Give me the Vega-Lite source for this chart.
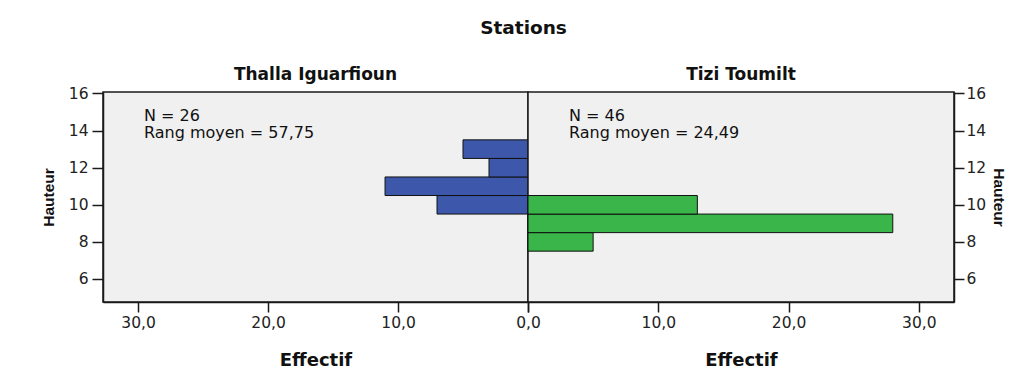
{
  "$schema": "https://vega.github.io/schema/vega-lite/v6.json",
  "background": "white",
  "padding": {"left": 40, "top": 19, "right": 10, "bottom": 5},
  "title": {
    "text": "Stations",
    "anchor": "middle",
    "font": "DejaVu Sans",
    "fontSize": 18.5,
    "fontWeight": "bold",
    "color": "#111",
    "offset": 28
  },
  "datasets": {
    "bars": [
      {"station": "Thalla Iguarfioun", "lo": 9.5, "hi": 10.5, "n": 7},
      {"station": "Thalla Iguarfioun", "lo": 10.5, "hi": 11.5, "n": 11},
      {"station": "Thalla Iguarfioun", "lo": 11.5, "hi": 12.5, "n": 3},
      {"station": "Thalla Iguarfioun", "lo": 12.5, "hi": 13.5, "n": 5},
      {"station": "Tizi Toumilt", "lo": 7.5, "hi": 8.5, "n": 5},
      {"station": "Tizi Toumilt", "lo": 8.5, "hi": 9.5, "n": 28},
      {"station": "Tizi Toumilt", "lo": 9.5, "hi": 10.5, "n": 13}
    ],
    "stats": [
      {"station": "Thalla Iguarfioun", "label": "N = 26\nRang moyen = 57,75"},
      {"station": "Tizi Toumilt", "label": "N = 46\nRang moyen = 24,49"}
    ]
  },
  "spacing": 0,
  "bounds": "flush",
  "hconcat": [
    {
      "width": 425,
      "height": 210,
      "title": {"text": "Thalla Iguarfioun", "frame": "group", "anchor": "middle"},
      "layer": [
        {
          "data": {"name": "bars"},
          "transform": [{"filter": "datum.station === 'Thalla Iguarfioun'"}],
          "mark": {"type": "rect", "fill": "#3d58ab", "stroke": "#111", "strokeWidth": 1},
          "encoding": {
            "x": {
              "field": "n", "type": "quantitative",
              "scale": {"domain": [0, 32.7], "reverse": true, "nice": false, "zero": false},
              "axis": {
                "title": "Effectif",
                "values": [0, 10, 20, 30],
                "labelExpr": "datum.value === 0 ? '' : replace(format(datum.value, '.1f'), '.', ',')"
              }
            },
            "x2": {"datum": 0},
            "y": {
              "field": "lo", "type": "quantitative",
              "scale": {"domain": [4.76, 16.08], "nice": false, "zero": false},
              "axis": {
                "orient": "left",
                "title": "Hauteur",
                "values": [6, 8, 10, 12, 14, 16],
                "tickSize": 11,
                "labelPadding": 4,
                "titlePadding": 12
              }
            },
            "y2": {"field": "hi"}
          }
        },
        {
          "data": {"name": "stats"},
          "transform": [{"filter": "datum.station === 'Thalla Iguarfioun'"}],
          "mark": {
            "type": "text", "align": "left", "baseline": "alphabetic",
            "lineBreak": "\n", "lineHeight": 17,
            "font": "DejaVu Sans", "fontSize": 16, "color": "#111"
          },
          "encoding": {
            "text": {"field": "label"},
            "x": {"datum": 29.55, "type": "quantitative"},
            "y": {"datum": 14.5, "type": "quantitative"}
          }
        }
      ]
    },
    {
      "width": 426,
      "height": 210,
      "title": {"text": "Tizi Toumilt", "frame": "group", "anchor": "middle"},
      "layer": [
        {
          "data": {"name": "bars"},
          "transform": [{"filter": "datum.station === 'Tizi Toumilt'"}],
          "mark": {"type": "rect", "fill": "#3ab54a", "stroke": "#111", "strokeWidth": 1},
          "encoding": {
            "x": {
              "field": "n", "type": "quantitative",
              "scale": {"domain": [0, 32.7], "nice": false, "zero": false},
              "axis": {
                "title": "Effectif",
                "values": [0, 10, 20, 30],
                "labelExpr": "replace(format(datum.value, '.1f'), '.', ',')"
              }
            },
            "x2": {"datum": 0},
            "y": {
              "field": "lo", "type": "quantitative",
              "scale": {"domain": [4.76, 16.08], "nice": false, "zero": false},
              "axis": {
                "orient": "right",
                "title": "Hauteur",
                "titleAngle": 90,
                "values": [6, 8, 10, 12, 14, 16],
                "tickSize": 10,
                "labelPadding": 2,
                "titlePadding": 5
              }
            },
            "y2": {"field": "hi"}
          }
        },
        {
          "data": {"name": "stats"},
          "transform": [{"filter": "datum.station === 'Tizi Toumilt'"}],
          "mark": {
            "type": "text", "align": "left", "baseline": "alphabetic",
            "lineBreak": "\n", "lineHeight": 17,
            "font": "DejaVu Sans", "fontSize": 16, "color": "#111"
          },
          "encoding": {
            "text": {"field": "label"},
            "x": {"datum": 3.15, "type": "quantitative"},
            "y": {"datum": 14.5, "type": "quantitative"}
          }
        }
      ]
    }
  ],
  "config": {
    "view": {"fill": "#f0f0f0", "stroke": "#1a1a1a", "strokeWidth": 1.5},
    "title": {
      "font": "DejaVu Sans",
      "fontSize": 17,
      "fontWeight": "bold",
      "color": "#111",
      "offset": 2
    },
    "axis": {
      "grid": false,
      "domain": true,
      "domainColor": "#1a1a1a",
      "domainWidth": 1.5,
      "tickColor": "#1a1a1a",
      "tickWidth": 1.5,
      "labelFlush": false,
      "labelFont": "DejaVu Sans",
      "labelFontSize": 15.5,
      "labelColor": "#222",
      "titleColor": "#111"
    },
    "axisX": {
      "tickSize": 10,
      "labelPadding": 3,
      "titleFont": "DejaVu Sans",
      "titleFontSize": 18,
      "titleFontWeight": "bold",
      "titlePadding": 21
    },
    "axisY": {
      "titleFont": "Liberation Sans",
      "titleFontSize": 15.5,
      "titleFontWeight": "bold"
    }
  }
}
